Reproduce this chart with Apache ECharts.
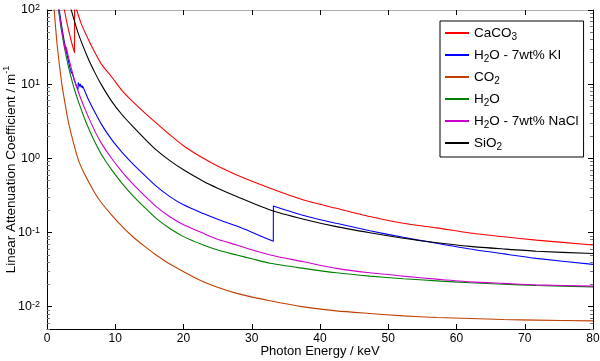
<!DOCTYPE html>
<html>
<head>
<meta charset="utf-8">
<script src="https://cdn.jsdelivr.net/npm/echarts@6/dist/echarts.min.js"></script>
<style>
  html, body { margin: 0; padding: 0; background: #fff; }
  #chart { width: 600px; height: 361px; }
</style>
</head>
<body>
<div id="chart"></div>
<script>
// values: [photon energy keV, attenuation m^-1]
const caco3 = [[2.2, 150], [2.55, 100], [3.0, 62], [3.5, 40], [4.03, 26.5], [4.04, 122], [4.35, 100], [5, 66],
  [6.06, 40], [7, 27], [8, 18.5], [9.48, 12.5], [11, 8.2], [12.5, 5.9], [14.36, 4.08], [16, 3.0], [18, 2.08],
  [20, 1.48], [22.9, 1.0], [25, 0.79], [27.8, 0.598], [32.7, 0.395], [37.6, 0.275], [42.4, 0.212], [47.3, 0.164],
  [52.2, 0.133], [57.1, 0.1155], [62, 0.0985], [66.9, 0.0875], [71.7, 0.079], [80, 0.0678]];
const kiSolution = [[1.5, 165], [1.8, 100], [2.2, 57], [2.6, 35], [3.0, 23.5], [3.6, 14.0], [3.61, 14.8], [4.0, 11.3],
  [4.55, 8.4], [4.56, 10.5], [4.85, 9.2], [4.86, 10.0], [5.18, 8.9], [5.19, 9.5], [6.0, 6.4], [7.0, 4.2], [8, 2.85],
  [9.48, 1.785], [11, 1.205], [12.5, 0.858], [14.36, 0.585], [16, 0.422], [18, 0.305], [20, 0.236], [22.9, 0.18],
  [25, 0.151], [27.8, 0.122], [30, 0.101], [33.16, 0.076], [33.17, 0.228], [37.6, 0.17], [42.4, 0.133],
  [47.3, 0.1057], [52.2, 0.0861], [57.1, 0.0715], [62, 0.0598], [66.9, 0.0515], [71.7, 0.0448], [80, 0.0372]];
const co2 = [[0.9, 160], [1.05, 100], [1.5, 33], [2.15, 10.4], [2.6, 5.8], [3.13, 3.1], [3.8, 1.73], [4.59, 0.955],
  [5.5, 0.615], [7.03, 0.339], [8, 0.25], [9.48, 0.172], [11, 0.121], [12.5, 0.089], [14.36, 0.0644], [16, 0.0497],
  [18, 0.0375], [22.9, 0.0216], [27.8, 0.0151], [32.7, 0.0120], [37.6, 0.00993], [42.4, 0.00877], [47.3, 0.00809],
  [52.2, 0.00752], [57.1, 0.00714], [62, 0.00693], [66.9, 0.00671], [71.7, 0.00658], [80, 0.00643]];
const water = [[1.4, 175], [1.7, 100], [2.0, 62], [2.5, 33], [3.13, 17.4], [3.6, 11.7], [4.0, 8.6], [4.59, 5.86],
  [5.5, 3.45], [6.2, 2.41], [7.03, 1.65], [8, 1.12], [9.48, 0.70], [11, 0.46], [12.5, 0.32], [14.36, 0.215],
  [16, 0.155], [18, 0.113], [20, 0.088], [22.9, 0.0678], [25, 0.058], [27.8, 0.0497], [30, 0.0443], [32.7, 0.0384],
  [37.6, 0.0328], [42.4, 0.0286], [47.3, 0.0258], [52.2, 0.0238], [57.1, 0.0223], [62, 0.021], [66.9, 0.0201],
  [71.7, 0.0193], [80, 0.0185]];
const naclSolution = [[1.45, 160], [1.73, 100], [2.0, 67], [2.5, 35.6], [2.81, 25.8], [2.83, 31.6], [3.13, 23.5],
  [3.6, 15.8], [4.0, 11.6], [4.59, 7.9], [5.5, 4.75], [7.03, 2.31], [8, 1.58], [9.48, 0.994], [11, 0.658],
  [12.5, 0.461], [14.36, 0.31], [16, 0.223], [18, 0.163], [20, 0.127], [22.9, 0.0975], [25, 0.0812], [27.8, 0.0678],
  [30, 0.0585], [32.7, 0.0497], [37.6, 0.0403], [42.4, 0.0328], [47.3, 0.0286], [52.2, 0.0258], [57.1, 0.0235],
  [62, 0.0216], [66.9, 0.0206], [71.7, 0.0197], [80, 0.0189]];
const sio2 = [[3.2, 135], [3.55, 100], [4.59, 48], [6, 22.5], [7.03, 14.2], [8, 9.7], [9.48, 5.86], [11, 3.87],
  [12.5, 2.74], [14.36, 1.82], [16, 1.30], [18, 0.93], [20, 0.70], [22.9, 0.49], [25, 0.395], [27.8, 0.305],
  [32.7, 0.201], [37.6, 0.151], [42.4, 0.120], [47.3, 0.0993], [52.2, 0.0836], [57.1, 0.0728], [62, 0.065],
  [66.9, 0.060], [71.7, 0.056], [80, 0.052]];

const seriesNames = ['CaCO3', 'H2O - 7wt% KI', 'CO2', 'H2O', 'H2O - 7wt% NaCl', 'SiO2'];
const legendText = ['{n|CaCO}{s|3}', '{n|H}{s|2}{n|O - 7wt% KI}', '{n|CO}{s|2}', '{n|H}{s|2}{n|O}',
  '{n|H}{s|2}{n|O - 7wt% NaCl}', '{n|SiO}{s|2}'];
const seriesData = [caco3, kiSolution, co2, water, naclSolution, sio2];
const seriesColors = ['#ff0000', '#0000ff', '#bf4000', '#008000', '#cc00cc', '#000000'];

const yMajor = [0.01, 0.1, 1, 10, 100];
const yMinor = [];
[-3, -2, -1, 0, 1].forEach(function (d) {
  [2, 3, 4, 5, 6, 7, 8, 9].forEach(function (m) {
    const v = m * Math.pow(10, d);
    if (v >= 0.005 && v < 100) yMinor.push(Number(v.toPrecision(3)));
  });
});

const FONT = 'Arial, "Liberation Sans", sans-serif';

function xAxisDef(pos, extra) {
  return Object.assign({
    type: 'value', position: pos, min: 0, max: 80, interval: 10,
    splitLine: { show: false },
    axisLine: { show: true, onZero: false, lineStyle: { color: '#000', width: 1 } },
    axisTick: { inside: true, length: 5, lineStyle: { color: '#000' } },
    axisLabel: { show: false }
  }, extra);
}
function yAxisDef(pos, ticks, len, showLine, extra) {
  return Object.assign({
    type: 'log', logBase: 10, position: pos, min: 0.005, max: 100,
    splitLine: { show: false },
    axisLine: { show: showLine, lineStyle: { color: '#000', width: 1 } },
    axisTick: { inside: true, length: len, customValues: ticks, lineStyle: { color: len > 4 ? '#000' : '#777' } },
    axisLabel: { show: false }
  }, extra);
}

const chart = echarts.init(document.getElementById('chart'));
chart.setOption({
  animation: false,
  backgroundColor: '#fff',
  textStyle: { fontFamily: FONT },
  grid: { left: 47, right: 7, top: 10, bottom: 32, outerBoundsMode: 'none', containLabel: false },
  legend: {
    orient: 'vertical', left: 440, top: 21,
    padding: [3, 5, 5, 5], itemGap: 4, itemWidth: 24, itemHeight: 2, icon: 'rect',
    backgroundColor: '#fff', borderColor: '#000', borderWidth: 1,
    data: seriesNames,
    formatter: function (name) { return legendText[seriesNames.indexOf(name)]; },
    textStyle: {
      color: '#000', fontFamily: FONT,
      rich: {
        n: { fontSize: 13.5, lineHeight: 14, verticalAlign: 'top', color: '#000', fontFamily: FONT },
        s: { fontSize: 10, lineHeight: 10, padding: [8, 0, 0, 0], color: '#000', fontFamily: FONT }
      }
    }
  },
  xAxis: [
    xAxisDef('bottom', {
      name: 'Photon Energy / keV', nameLocation: 'middle', nameGap: 16, nameMoveOverlap: false,
      nameTextStyle: { fontSize: 13, color: '#000', fontFamily: FONT },
      axisLabel: { show: true, margin: 4, fontSize: 12, color: '#000', fontFamily: FONT }
    }),
    xAxisDef('top', { axisLine: { show: true, onZero: false, lineStyle: { color: '#b0b0b0' } } })
  ],
  yAxis: [
    yAxisDef('left', yMajor, 5, true, {
      name: '{a|Linear Attenuation Coefficient / m}{e|-1}', nameLocation: 'middle', nameGap: 31,
      nameMoveOverlap: false,
      nameTextStyle: {
        rich: {
          a: { fontSize: 13.5, lineHeight: 14, padding: [4, 0, 0, 0], color: '#000', fontFamily: FONT },
          e: { fontSize: 9, lineHeight: 9, verticalAlign: 'top', color: '#000', fontFamily: FONT }
        }
      },
      axisLabel: {
        show: true, margin: 7, customValues: yMajor,
        formatter: function (v) { return '{b|10}{e|' + Math.round(Math.log10(v)) + '}'; },
        rich: {
          b: { fontSize: 12.5, lineHeight: 13, padding: [4, 0, 4, 0], color: '#000', fontFamily: FONT },
          e: { fontSize: 9, lineHeight: 9, verticalAlign: 'top', color: '#000', fontFamily: FONT }
        }
      }
    }),
    yAxisDef('left', yMinor, 3, false),
    yAxisDef('right', yMajor, 5, true),
    yAxisDef('right', yMinor, 3, false)
  ],
  series: seriesData.map(function (d, i) {
    return {
      name: seriesNames[i], type: 'line', data: d,
      xAxisIndex: 0, yAxisIndex: 0,
      symbol: 'none', smooth: 0.25, clip: true,
      lineStyle: { color: seriesColors[i], width: 1.1 },
      itemStyle: { color: seriesColors[i] }
    };
  })
});
</script>
</body>
</html>
